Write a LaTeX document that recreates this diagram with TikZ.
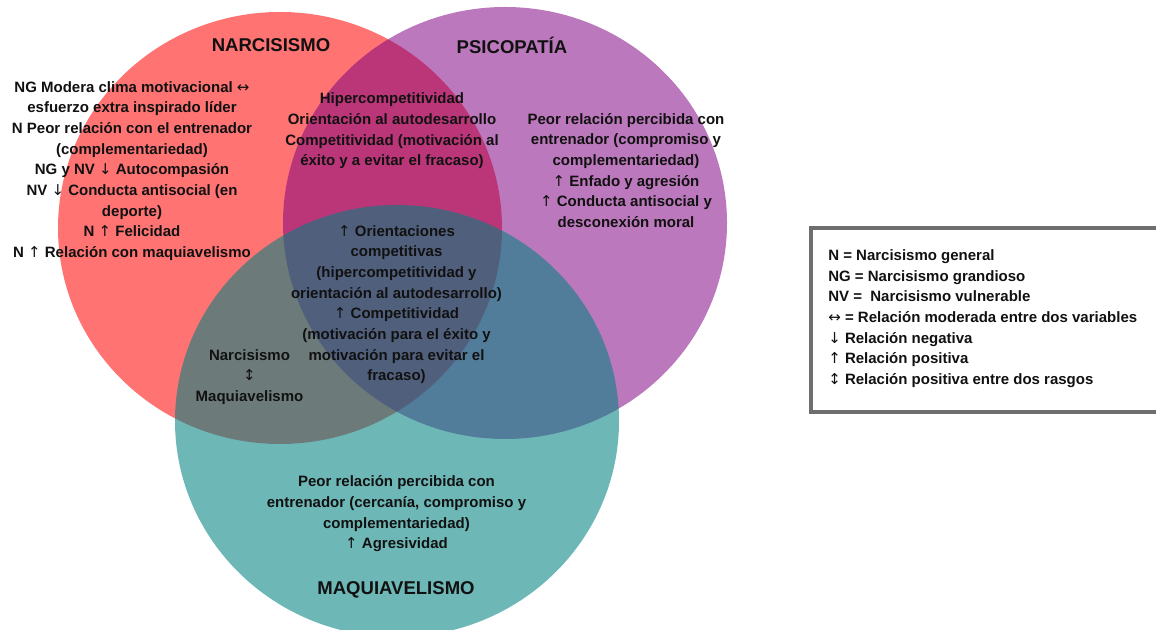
\documentclass[tikz,border=0pt]{standalone}
\usepackage{fontspec}
\setmainfont{Liberation Sans}
\newfontfamily\arwfont{DejaVu Sans}
\usetikzlibrary{positioning}
\definecolor{narc}{HTML}{FF0000}
\definecolor{psic}{HTML}{800080}
\definecolor{maqu}{HTML}{008080}
\definecolor{frame}{HTML}{6E6E6E}
\definecolor{ink}{HTML}{111111}
\newcommand{\arUp}{{\arwfont\mdseries ↑}}
\newcommand{\arDn}{{\arwfont\mdseries ↓}}
\newcommand{\arLR}{{\arwfont\mdseries ↔}}
\newcommand{\arUD}{{\arwfont\mdseries ↕}}
\begin{document}
\begin{tikzpicture}[x=0.75pt,y=0.75pt,
  body/.style={font=\fontsize{11.25}{15.5}\selectfont\bfseries, align=center, text=ink, inner sep=0pt},
  title/.style={font=\fontsize{13.9}{16}\selectfont\bfseries, text=ink, inner sep=0pt}]
\useasboundingbox (0,0) rectangle (1156,630);
\fill[narc, fill opacity=0.55] (280,402) ellipse [x radius=222, y radius=216];
\fill[psic, fill opacity=0.53] (505,407) ellipse [x radius=222, y radius=216];
\fill[maqu, fill opacity=0.57] (397,209) ellipse [x radius=222, y radius=216];
\node[title] (narcT) at (271,585) {NARCISISMO};
\node[title] (psicT) at (512,585) {PSICOPATÍA};
\node[title] (maquT) at (396,40) {MAQUIAVELISMO};
\node[body] (narcTxt) at (132,459) {NG Modera clima motivacional \arLR\\ esfuerzo extra inspirado líder\\ N Peor relación con el entrenador\\ (complementariedad)\\ NG y NV \arDn\ Autocompasión\\ NV \arDn\ Conducta antisocial (en\\ deporte)\\ N \arUp\ Felicidad\\ N \arUp\ Relación con maquiavelismo};
\node[body] (narcPsic) at (392,499) {Hipercompetitividad\\ Orientación al autodesarrollo\\ Competitividad (motivación al\\ éxito y a evitar el fracaso)};
\node[body] (psicTxt) at (626,459.5) {Peor relación percibida con\\ entrenador (compromiso y\\ complementariedad)\\ \arUp\ Enfado y agresión\\ \arUp\ Conducta antisocial y\\ desconexión moral};
\node[body] (all) at (396.5,325.5) {\arUp\ Orientaciones\\ competitivas\\ (hipercompetitividad y\\ orientación al autodesarrollo)\\ \arUp\ Competitividad\\ (motivación para el éxito y\\ motivación para evitar el\\ fracaso)};
\node[body] (narcMaqu) at (249.5,253) {Narcisismo\\ \arUD\\ Maquiavelismo};
\node[body] (maquTxt) at (396.5,116) {Peor relación percibida con\\ entrenador (cercanía, compromiso y\\ complementariedad)\\ \arUp\ Agresividad};
\draw[frame, line width=2.3pt] (811,402) rectangle (1162,218);
\node[body, align=left, anchor=west] (legend) at (828,311.5) {N = Narcisismo general\\ NG = Narcisismo grandioso\\ NV = \ Narcisismo vulnerable\\ \arLR\ = Relación moderada entre dos variables\\ \arDn\ Relación negativa\\ \arUp\ Relación positiva\\ \arUD\ Relación positiva entre dos rasgos};
\end{tikzpicture}
\end{document}
